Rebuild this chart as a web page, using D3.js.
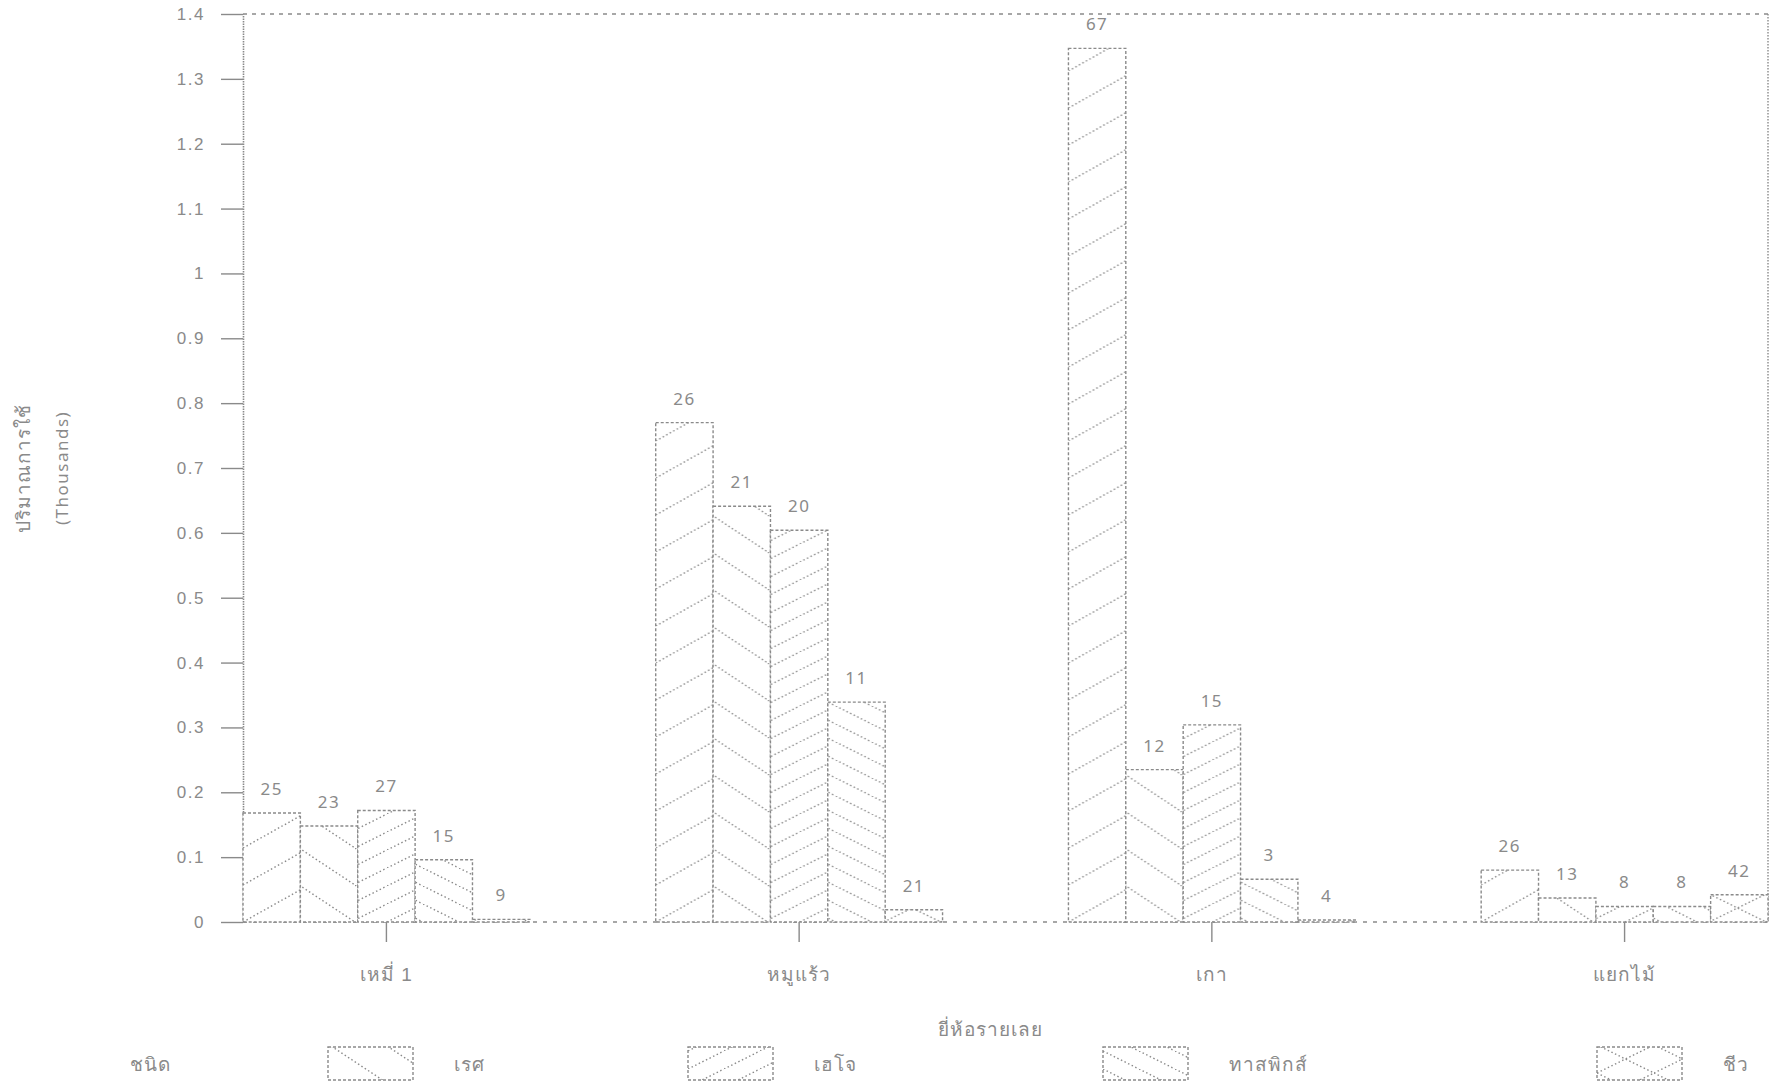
<!DOCTYPE html>
<html>
<head>
<meta charset="utf-8">
<script src="https://cdn.jsdelivr.net/npm/d3@7"></script>
<style>
  body { margin: 0; background: #fff; }
  svg { display: block; font-family: 'Noto Sans', 'DejaVu Sans', sans-serif; }
  .txt { fill: #8a8a8a; font-size: 17px; letter-spacing: 1.5px; }
  .thai { fill: #8a8a8a; font-size: 19px; letter-spacing: 1px; }
  .axis path, .axis line { stroke: #8a8a8a; }
</style>
</head>
<body>
<div id="chart"></div>
<script>
// categories and series (values in thousands)
const categories = ['เหมี่ 1', 'หมูแร้ว', 'เกา', 'แยกไม้'];
const seriesLabels = ['เรศ', 'เฮโจ', 'ทาสพิกส์', 'ชีว'];   // legend shows series 2-5
const legendTitle = 'ชนิด';

const series1 = [0.168, 0.770, 1.347, 0.080];
const series2 = [0.148, 0.641, 0.235, 0.037];
const series3 = [0.172, 0.604, 0.304, 0.024];
const series4 = [0.096, 0.339, 0.066, 0.024];
const series5 = [0.004, 0.019, 0.003, 0.042];

// numbers printed above each bar
const counts1 = [25, 26, 67, 26];
const counts2 = [23, 21, 12, 13];
const counts3 = [27, 20, 15, 8];
const counts4 = [15, 11, 3, 8];
const counts5 = [9, 21, 4, 42];

const yTickValues = [0, 0.1, 0.2, 0.3, 0.4, 0.5, 0.6, 0.7, 0.8, 0.9, 1, 1.1, 1.2, 1.3, 1.4];

const yTitle = ['ปริมาณการใช้', '(Thousands)'];
const xTitle = 'ยี่ห้อรายเลย';

const config = {
  'width': 1780,
  'height': 1083,
  'margins': {
    'top': 14,
    'right': 12,
    'bottom': 161,
    'left': 243
  }
}

const allSeries = [series1, series2, series3, series4, series5];
const allCounts = [counts1, counts2, counts3, counts4, counts5];
const grey = '#8a8a8a';

const svg = d3.select('#chart').append('svg')
  .attr('width', config.width)
  .attr('height', config.height)
  .attr('viewBox', [0, 0, config.width, config.height]);

const x0 = d3.scaleBand()
  .domain(categories)
  .range([config.margins.left, config.width - config.margins.right])
  .paddingInner(0.305)
  .paddingOuter(0);

const x1 = d3.scaleBand()
  .domain(d3.range(allSeries.length))
  .range([0, x0.bandwidth()]);

const y = d3.scaleLinear()
  .domain([0, 1.4])
  .range([config.height - config.margins.bottom, config.margins.top]);

// hatch patterns: [kind, tile width, tile height]
const hatches = [['up', 66, 37], ['down', 56, 37], ['up', 36, 18], ['down', 36, 18], ['cross', 57, 28]];
const defs = svg.append('defs');
hatches.forEach((h, i) => {
  const p = defs.append('pattern')
    .attr('id', `hatch${i}`)
    .attr('patternUnits', 'userSpaceOnUse')
    .attr('x', 0)
    .attr('y', y(0))
    .attr('width', h[1])
    .attr('height', h[2]);
  p.append('rect').attr('width', h[1]).attr('height', h[2]).attr('fill', '#fff');
  const segs = [];
  if (h[0] != 'down') segs.push([0, h[2], h[1], 0]);
  if (h[0] != 'up') segs.push([0, 0, h[1], h[2]]);
  segs.forEach(s => {
    p.append('line')
      .attr('x1', s[0]).attr('y1', s[1]).attr('x2', s[2]).attr('y2', s[3])
      .attr('stroke', grey)
      .attr('stroke-width', 1.4)
      .attr('stroke-dasharray', '1.5,2.5');
  });
});

// frame: top dashed, right dotted
svg.append('line')
  .attr('x1', x0.range()[0]).attr('x2', x0.range()[1])
  .attr('y1', y(1.4)).attr('y2', y(1.4))
  .attr('stroke', grey).attr('stroke-width', 1.4).attr('stroke-dasharray', '4,5');
svg.append('line')
  .attr('x1', x0.range()[1]).attr('x2', x0.range()[1])
  .attr('y1', y(1.4)).attr('y2', y(0))
  .attr('stroke', grey).attr('stroke-width', 1.4).attr('stroke-dasharray', '1.5,1.5');

const yAxis = d3.axisLeft(y)
  .tickValues(yTickValues)
  .tickSize(22)
  .tickSizeOuter(0)
  .tickPadding(16)
  .tickFormat(d3.format('.1~f'));

const yG = svg.append('g')
  .attr('class', 'axis y')
  .attr('transform', `translate(${config.margins.left}, 0)`)
  .call(yAxis);
yG.select('path.domain').attr('stroke-width', 1.6).attr('stroke-dasharray', '1.5,1');
yG.selectAll('.tick line').attr('stroke-width', 1.4);
yG.selectAll('.tick text').attr('class', 'txt').attr('font-size', null).attr('font-family', null);

const xAxis = d3.axisBottom(x0)
  .tickSize(20)
  .tickSizeOuter(0)
  .tickPadding(26);

const xG = svg.append('g')
  .attr('class', 'axis x')
  .attr('transform', `translate(0, ${y(0)})`)
  .call(xAxis);
xG.select('path.domain').remove();
xG.selectAll('.tick line').attr('stroke-width', 1.4);
xG.selectAll('.tick text').attr('class', 'thai').attr('font-size', null).attr('font-family', null);

// baseline
svg.append('line')
  .attr('x1', x0.range()[0]).attr('x2', x0.range()[1])
  .attr('y1', y(0)).attr('y2', y(0))
  .attr('stroke', grey).attr('stroke-width', 1.4).attr('stroke-dasharray', '4,6');

const group = svg.selectAll('g.group')
  .data(categories)
  .join('g')
    .attr('class', 'group')
    .attr('transform', d => `translate(${x0(d)}, 0)`);

const bar = group.selectAll('g.bar')
  .data((d, ci) => allSeries.map((s, si) => ({ si: si, value: s[ci], count: allCounts[si][ci] })))
  .join('g')
    .attr('class', 'bar');

bar.append('rect')
  .attr('x', d => x1(d.si))
  .attr('y', d => y(d.value))
  .attr('width', x1.bandwidth())
  .attr('height', d => y(0) - y(d.value))
  .attr('fill', d => `url(#hatch${d.si})`)
  .attr('stroke', grey)
  .attr('stroke-width', 1.4)
  .attr('stroke-dasharray', '3,2');

bar.append('text')
  .attr('class', 'txt')
  .attr('x', d => x1(d.si) + x1.bandwidth() / 2)
  .attr('y', d => y(d.value) - 18)
  .attr('text-anchor', 'middle')
  .text(d => d.count);

// axis titles
svg.append('text')
  .attr('class', 'thai')
  .attr('text-anchor', 'middle')
  .attr('transform', `translate(30, ${(y(0) + y(1.4)) / 2}) rotate(-90)`)
  .text(yTitle[0]);
svg.append('text')
  .attr('class', 'txt')
  .attr('text-anchor', 'middle')
  .attr('transform', `translate(68, ${(y(0) + y(1.4)) / 2}) rotate(-90)`)
  .text(yTitle[1]);

svg.append('text')
  .attr('class', 'thai')
  .attr('text-anchor', 'middle')
  .attr('x', 990)
  .attr('y', 1036)
  .text(xTitle);

// legend
svg.append('text')
  .attr('class', 'thai')
  .attr('x', 130)
  .attr('y', 1071)
  .text(legendTitle);

const legendX = [328, 688, 1103, 1597];
const legend = svg.selectAll('g.legend')
  .data(seriesLabels)
  .join('g')
    .attr('class', 'legend')
    .attr('transform', (d, i) => `translate(${legendX[i]}, 1047)`);

legend.append('rect')
  .attr('width', 85)
  .attr('height', 33)
  .attr('fill', (d, i) => `url(#hatch${i + 1})`)
  .attr('stroke', grey)
  .attr('stroke-width', 1.4)
  .attr('stroke-dasharray', '3,2');

legend.append('text')
  .attr('class', 'thai')
  .attr('x', 126)
  .attr('y', 24)
  .text(d => d);
</script>
</body>
</html>
